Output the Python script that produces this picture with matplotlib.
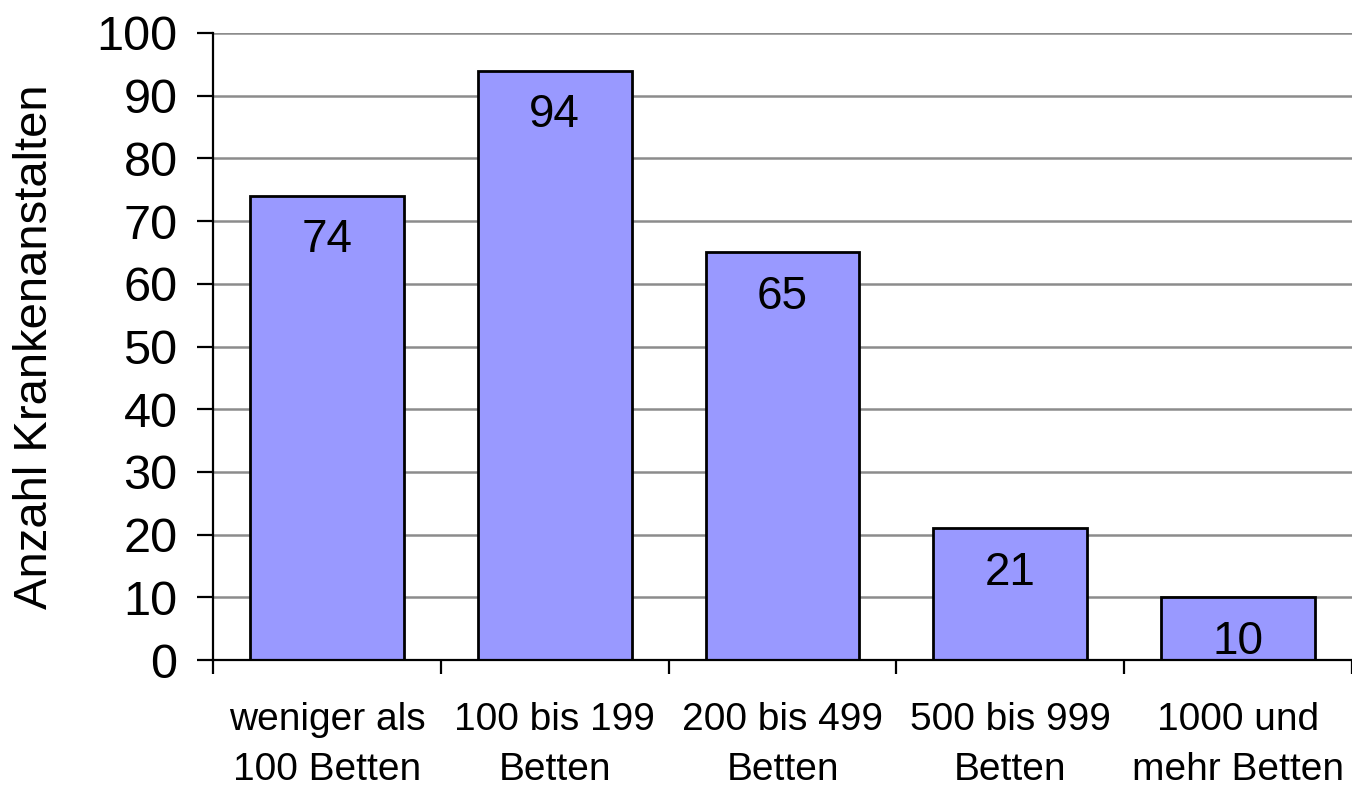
import matplotlib.pyplot as plt
import numpy as np

plt.rcParams['font.family'] = ['Liberation Sans', 'DejaVu Sans']

categories = ['weniger als\n100 Betten', '100 bis 199\nBetten', '200 bis 499\nBetten',
              '500 bis 999\nBetten', '1000 und\nmehr Betten']
values = [74, 94, 65, 21, 10]
y_ticks = list(range(0, 101, 10))

fig = plt.figure(figsize=(13.52, 7.88), dpi=100)
ax = fig.add_axes([213 / 1352, 1 - 660 / 788, 1 - 213 / 1352, (660 - 33) / 788])

x = np.arange(len(categories))
bars = ax.bar(x, values, width=0.675, color='#9999FF', edgecolor='black', linewidth=2, zorder=3)

# Werte in die Balken schreiben
for xi, v in zip(x, values):
    ax.annotate(str(v), (xi, v), xytext=(0, -16), textcoords='offset points',
                ha='center', va='top', fontsize=33, zorder=4)

ax.set_xlim(-0.5, len(categories) - 0.5)
ax.set_ylim(0, 100)
ax.set_yticks(y_ticks)
ax.yaxis.grid(True, color='#8c8c8c', linewidth=1.8, zorder=0)

ax.set_xticks(x)
ax.set_xticklabels(categories, fontsize=28, linespacing=1.5)
ax.set_xticks(np.arange(-0.5, len(categories), 1.0), minor=True)
ax.tick_params(axis='x', which='major', length=0, pad=30)
ax.tick_params(axis='x', which='minor', length=10, width=1.6, direction='out', color='black')
ax.tick_params(axis='y', labelsize=35, length=11.5, width=1.6, pad=14)

for s in ['top', 'right']:
    ax.spines[s].set_visible(False)
for s in ['left', 'bottom']:
    ax.spines[s].set_linewidth(1.6)
    ax.spines[s].set_zorder(5)

ax.set_ylabel('Anzahl Krankenanstalten', fontsize=34)
ax.yaxis.set_label_coords(-156 / 1139, 0.5)

fig.savefig('out.png', dpi=100)
